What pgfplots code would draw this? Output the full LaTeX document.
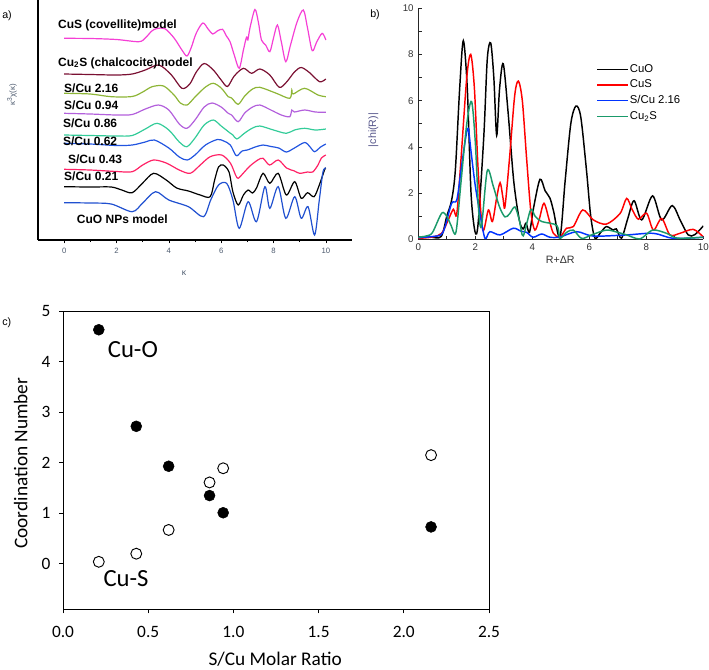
\documentclass[border=0pt]{standalone}
\usepackage{fontspec}
\setmainfont{Liberation Sans}
\newfontfamily\carlito{Carlito}
\usepackage{pgfplots}
\pgfplotsset{compat=1.18}
\definecolor{cusmag}{HTML}{F53FD5}
\definecolor{cutwos}{HTML}{7A1032}
\definecolor{olive}{HTML}{8DB536}
\definecolor{violet}{HTML}{B360DC}
\definecolor{teal}{HTML}{33CC99}
\definecolor{blueA}{HTML}{2255E0}
\definecolor{pinkred}{HTML}{FF2266}
\definecolor{blueB}{HTML}{2050D0}
\definecolor{tickgray}{HTML}{4C5A6E}
\definecolor{grnB}{HTML}{1A9A6A}
\definecolor{blueC}{HTML}{0033FF}
\definecolor{chilab}{HTML}{55558A}
\begin{document}
\begin{tikzpicture}[x=0.75pt,y=0.75pt]
\path[use as bounding box] (0,0) rectangle (709,-669);
\node[anchor=west,inner sep=0,font=\fontsize{8}{9}\selectfont] at (2,-16) {a)};
\node[anchor=west,inner sep=0,font=\fontsize{8}{9}\selectfont] at (370,-15) {b)};
\node[anchor=west,inner sep=0,font=\fontsize{8}{9}\selectfont] at (2,-323) {c)};
% ---------------- panel a
\begin{axis}[at={(28.5pt,-180pt)}, anchor=south west, scale only axis,
  width=235.5pt, height=180pt, xmin=-1, xmax=11, ymin=-240, ymax=0,
  axis lines*=left, axis line style={line width=0.8pt},
  ytick=\empty, xtick={0,2,...,10}, minor xtick={1,3,...,9},
  tick align=outside, major tick length=2.5pt, minor tick length=1.5pt,
  tick style={black, line width=0.5pt},
  /pgf/number format/assume math mode=true,
  xticklabel style={font=\fontsize{5.8}{6}\selectfont, text=tickgray},
  xlabel={κ}, xlabel style={at={(axis description cs:0.465,-0.1375)}, anchor=center, font=\fontsize{6.5}{7}\selectfont, text=tickgray},
  ylabel={κ\textsuperscript{3}χ(κ)}, ylabel style={at={(axis description cs:-0.083,0.604)}, anchor=center, font=\fontsize{6}{7}\selectfont, text=tickgray},
  every axis plot/.append style={line width=0.9pt, smooth, tension=0.5},
  clip=false]
\addplot[cusmag] coordinates {(0,-38.3) (1,-38.5) (2,-39.5) (2.85,-41.7) (3.1,-38) (3.35,-31) (3.55,-28.5) (3.85,-28.7) (4.2,-38) (4.5,-50) (4.69,-56) (4.85,-48) (5.05,-33) (5.3,-23) (5.5,-29) (5.68,-34) (5.85,-31) (6.05,-29.3) (6.2,-36) (6.34,-41.7) (6.5,-55) (6.69,-68.3) (6.85,-50) (6.97,-37) (7.02,-40) (7.1,-28) (7.29,-9.5) (7.42,-22) (7.54,-40) (7.7,-45) (7.86,-51.7) (8.0,-38) (8.15,-25) (8.3,-42) (8.47,-61.7) (8.65,-45) (8.9,-22) (9.14,-10) (9.3,-28) (9.48,-50.7) (9.65,-42) (9.86,-33.3) (10,-40)};
\addplot[cutwos] coordinates {(0,-74) (1,-74.5) (2,-75) (2.6,-74) (3.1,-70) (3.62,-65) (4.1,-75) (4.5,-88.3) (4.8,-84) (5.05,-72) (5.35,-63.5) (5.7,-70) (6.0,-80) (6.24,-86.5) (6.5,-76) (6.85,-68.3) (7.16,-73.3) (7.48,-69) (7.86,-75) (8.22,-87.3) (8.5,-82) (8.8,-72) (9.06,-67.5) (9.38,-72.7) (9.76,-81.7) (10,-79)};
\addplot[olive] coordinates {(0,-93.3) (1,-94) (1.8,-96.7) (2.6,-96.5) (3.0,-92) (3.36,-86.7) (3.8,-86) (4.2,-95) (4.44,-103) (4.7,-105) (5.0,-97) (5.4,-87) (5.7,-83.3) (6.0,-88) (6.27,-96.7) (6.4,-98) (6.65,-104.3) (6.9,-96) (7.2,-89) (7.48,-87.3) (8.11,-93.3) (8.62,-98.3) (8.7,-90) (8.75,-94) (9.19,-88.3) (9.7,-95) (10,-96.7)};
\addplot[violet] coordinates {(0,-113.3) (1,-114) (2,-115) (2.6,-114.5) (3.1,-109) (3.6,-105) (4.0,-110) (4.4,-124) (4.69,-128.3) (5.0,-120) (5.35,-107) (5.65,-103) (6.0,-107) (6.27,-113.3) (6.4,-115) (6.65,-121.7) (6.9,-113) (7.2,-107) (7.48,-105) (7.9,-110) (8.3,-115) (8.62,-116.7) (8.7,-110) (8.8,-112) (9.19,-110) (9.6,-112) (10,-112.3)};
\addplot[teal] coordinates {(0,-135) (1,-135.5) (2,-136) (2.6,-135.5) (3.1,-129) (3.55,-123.3) (4.0,-130) (4.4,-142) (4.69,-146.7) (5.0,-138) (5.35,-125) (5.7,-120) (6.0,-126) (6.34,-133) (6.45,-135) (6.6,-139) (6.9,-133) (7.2,-128) (7.48,-126) (8.0,-130) (8.49,-133.3) (8.8,-130) (9.19,-128.3) (9.6,-130) (10,-129)};
\addplot[blueA] coordinates {(0,-143.3) (1,-144) (2,-145.5) (2.6,-145) (3.1,-142) (3.45,-140) (4.0,-148) (4.4,-157) (4.7,-160) (5.0,-155) (5.4,-145) (5.85,-139.5) (6.1,-141) (6.35,-145) (6.55,-155) (6.65,-155) (6.8,-151) (7.0,-150) (7.3,-147) (7.6,-145) (7.9,-146.5) (8.2,-148) (8.49,-152) (8.8,-148) (9.19,-142.5) (9.4,-147) (9.57,-151.7) (9.8,-147) (10,-144)};
\addplot[pinkred] coordinates {(0,-169.3) (1,-170) (2,-171.5) (2.6,-171.7) (3.0,-165) (3.42,-160) (3.9,-163) (4.4,-170) (4.82,-173.3) (5.2,-165) (5.58,-156.7) (6.02,-155) (6.35,-163) (6.55,-175) (6.65,-178.3) (6.85,-173) (7.1,-166) (7.4,-160) (7.6,-158.3) (7.85,-165) (8.18,-160) (8.5,-168) (8.8,-171) (9.0,-173.3) (9.3,-172) (9.5,-172) (9.7,-165) (9.83,-158) (10,-155)};
\addplot[black] coordinates {(0,-186.7) (1,-187) (1.8,-187) (2.2,-190) (2.6,-192.7) (3.0,-183) (3.42,-173.3) (3.9,-180) (4.3,-188) (4.75,-191) (5.2,-195) (5.58,-196.7) (5.75,-180) (5.9,-167) (6.08,-165) (6.3,-172) (6.45,-192) (6.65,-205) (6.85,-195) (7.03,-190) (7.2,-193) (7.35,-188) (7.6,-173.3) (7.86,-183.3) (8.18,-173.3) (8.49,-195) (8.81,-181.7) (9.06,-198.3) (9.3,-192.7) (9.55,-196.7) (9.75,-185) (9.95,-170) (10,-168)};
\addplot[blueB] coordinates {(0,-202.7) (1,-203) (1.8,-204) (2.6,-211.7) (3.0,-203) (3.49,-191.7) (4.0,-200) (4.75,-206.7) (5.32,-216.7) (5.6,-200) (5.9,-185) (6.21,-183.3) (6.45,-200) (6.69,-228.3) (7.03,-201.7) (7.35,-221.7) (7.67,-186.7) (7.86,-208.3) (8.18,-186.7) (8.47,-218.3) (8.81,-196.7) (9.06,-218.3) (9.32,-206.7) (9.57,-235) (9.75,-200) (9.89,-172) (10,-168)};
\begin{scope}[every node/.style={anchor=west, inner sep=0, font=\bfseries\fontsize{9}{10}\selectfont}]
\node at (axis cs:-0.24,-25) {CuS (covellite)model};
\node at (axis cs:-0.24,-63) {Cu\textsubscript{2}S (chalcocite)model};
\node at (axis cs:-0.01,-88) {S/Cu 2.16};
\node at (axis cs:-0.01,-105) {S/Cu 0.94};
\node at (axis cs:-0.05,-123) {S/Cu 0.86};
\node at (axis cs:-0.05,-141) {S/Cu 0.62};
\node at (axis cs:0.14,-159) {S/Cu 0.43};
\node at (axis cs:-0.01,-176) {S/Cu 0.21};
\node at (axis cs:0.48,-219) {CuO NPs model};
\end{scope}
\end{axis}
% ---------------- panel b
\begin{axis}[at={(313.725pt,-179.475pt)}, anchor=south west, scale only axis,
  width=213.75pt, height=173.25pt, xmin=0, xmax=10, ymin=0, ymax=10,
  axis lines*=left, axis line style={line width=0.6pt, black!85},
  xtick={0,2,...,10}, ytick={0,2,...,10}, minor xtick={1,3,...,9}, minor ytick={1,3,...,9},
  tick align=inside, major tick length=2.5pt, minor tick length=2.5pt,
  tick style={black!85, line width=0.5pt},
  /pgf/number format/assume math mode=true,
  ticklabel style={font=\fontsize{7.3}{8}\selectfont, text=black!80},
  xlabel={R+ΔR}, xlabel style={at={(axis description cs:0.498,-0.09)}, anchor=center, font=\fontsize{8}{9}\selectfont, text=black!80},
  ylabel={|chi(R)|}, ylabel style={at={(axis description cs:-0.158,0.473)}, anchor=center, font=\fontsize{8}{9}\selectfont, text=chilab},
  every axis plot/.append style={line width=1.1pt, smooth, tension=0.5},
  legend style={draw=none, fill=none, at={(axis cs:6.1,7.75)}, anchor=north west, font=\fontsize{8.5}{9}\selectfont, row sep=2.2pt, nodes={inner sep=1pt}},
  legend cell align=left,
  legend image code/.code={\draw[#1, line width=1.1pt] (0pt,0pt) -- (23pt,0pt);}]
\addplot[black] coordinates {(0,0.1) (0.4,0.1) (0.8,0.12) (1.0,1.0) (1.17,1.7) (1.3,3.0) (1.45,6.5) (1.58,8.6) (1.72,6.5) (1.85,2.0) (1.99,0.33) (2.1,0.7) (2.3,4.5) (2.42,7.8) (2.54,8.5) (2.65,7.0) (2.75,4.5) (2.85,6.5) (2.98,7.6) (3.15,5.5) (3.35,2.5) (3.55,0.8) (3.68,0.45) (3.78,0.7) (3.9,0.3) (4.05,1.4) (4.27,2.6) (4.45,2.1) (4.62,1.78) (4.75,1.2) (4.97,0.08) (5.15,2.5) (5.35,5.0) (5.53,5.77) (5.7,5.3) (5.9,3.0) (6.05,1.0) (6.2,0.05) (6.4,0.3) (6.6,0.55) (6.84,0.4) (6.95,0.45) (7.13,0.05) (7.35,0.9) (7.57,1.67) (7.84,0.84) (8.22,1.88) (8.54,0.84) (8.91,1.46) (9.2,0.8) (9.47,0.19) (9.7,0.2) (10,0.58)};
\addlegendentry{CuO}
\addplot[red] coordinates {(0,0.04) (0.5,0.1) (0.82,0.26) (1.05,0.84) (1.23,1.3) (1.35,1.1) (1.5,3.5) (1.7,7.0) (1.84,8.0) (1.97,6.5) (2.1,3.0) (2.26,0.4) (2.46,1.27) (2.6,0.77) (2.75,1.8) (2.87,2.45) (2.97,1.8) (3.04,1.41) (3.2,3.5) (3.38,6.2) (3.51,6.85) (3.65,6.0) (3.8,3.5) (3.95,1.2) (4.09,0.4) (4.25,0.9) (4.41,1.56) (4.6,0.8) (4.74,0.26) (4.97,0.09) (5.2,0.48) (5.44,0.55) (5.77,1.27) (6.14,0.84) (6.6,0.66) (7.08,1.12) (7.31,1.77) (7.5,1.3) (7.72,0.87) (8.01,1.13) (8.25,0.4) (8.54,0.9) (8.83,0.19) (9.18,0.26) (9.65,0.43) (10,0.1)};
\addlegendentry{CuS}
\addplot[blueC] coordinates {(0,0.07) (0.5,0.12) (0.8,0.2) (0.94,0.55) (1.17,1.56) (1.35,1.7) (1.5,3.0) (1.65,4.3) (1.75,4.8) (1.85,3.8) (1.99,2.4) (2.15,1.2) (2.34,0.04) (2.51,0.33) (2.87,0.19) (3.33,0.48) (3.6,0.35) (3.8,0.3) (4.03,0.09) (4.33,0.23) (4.62,0.09) (4.97,0.1) (5.56,0.33) (6.14,0.14) (7.31,0.19) (8.25,0.26) (8.95,0.04) (10,0.09)};
\addlegendentry{S/Cu 2.16}
\addplot[grnB] coordinates {(0,0.09) (0.3,0.15) (0.5,0.3) (0.82,1.13) (1.0,1.0) (1.15,0.6) (1.32,0.3) (1.5,2.5) (1.7,5.0) (1.87,5.96) (2.0,4.2) (2.12,1.2) (2.22,0.6) (2.42,2.97) (2.63,2.3) (2.85,1.4) (3.04,0.97) (3.2,1.1) (3.39,1.4) (3.55,0.8) (3.68,0.15) (3.94,1.28) (4.1,1.0) (4.33,0.77) (4.86,0.6) (4.97,0.05) (5.2,0.3) (5.44,0.4) (5.73,0.04) (6.1,0.2) (6.6,0.4) (7.0,0.3) (7.31,0.19) (7.78,0.02) (8.22,0.4) (8.71,0.26) (9.1,0.05) (10,0.09)};
\addlegendentry{Cu\textsubscript{2}S}
\end{axis}
% ---------------- panel c
\begin{axis}[at={(47.25pt,-456.975pt)}, anchor=south west, scale only axis,
  width=319.5pt, height=223.7pt, xmin=0, xmax=2.5, ymin=-0.9, ymax=5,
  xtick={0,0.5,1,1.5,2,2.5}, ytick={0,1,2,3,4,5},
  xtick pos=left, ytick pos=left, tick align=outside, major tick length=3pt,
  axis line style={line width=0.7pt}, tick style={line width=0.6pt, black},
  /pgf/number format/assume math mode=true,
  ticklabel style={font=\carlito\fontsize{13}{14}\selectfont},
  xticklabel style={yshift=-6pt, /pgf/number format/fixed, /pgf/number format/fixed zerofill, /pgf/number format/precision=1},
  yticklabel style={xshift=-3pt},
  xlabel={S/Cu Molar Ratio}, xlabel style={at={(axis description cs:0.498,-0.168)}, anchor=center, font=\carlito\fontsize{14.5}{16}\selectfont},
  ylabel={Coordination Number}, ylabel style={at={(axis description cs:-0.099,0.49)}, anchor=center, font=\carlito\fontsize{14.5}{16}\selectfont}]
\addplot[only marks, mark=*, mark size=4.1pt, mark options={fill=black, draw=black}] coordinates {(0.21,4.63) (0.43,2.72) (0.62,1.93) (0.86,1.35) (0.94,1.01) (2.16,0.73)};
\addplot[only marks, mark=o, mark size=4.1pt, mark options={draw=black, fill=white, line width=0.7pt}] coordinates {(0.21,0.04) (0.43,0.20) (0.62,0.67) (0.86,1.61) (0.94,1.89) (2.16,2.15)};
\node[font=\carlito\fontsize{18.5}{20}\selectfont] at (axis cs:0.41,4.24) {Cu-O};
\node[font=\carlito\fontsize{18.5}{20}\selectfont] at (axis cs:0.37,-0.29) {Cu-S};
\end{axis}
\end{tikzpicture}
\end{document}
